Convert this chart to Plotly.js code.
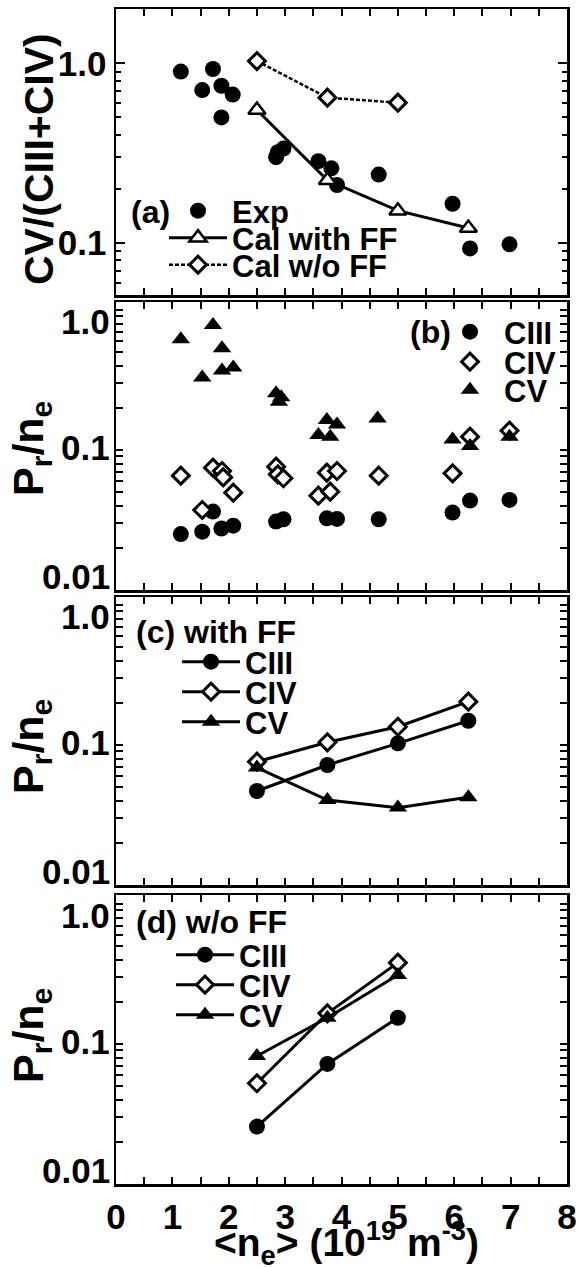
<!DOCTYPE html>
<html>
<head>
<meta charset="utf-8">
<script src="https://cdn.plot.ly/plotly-3.0.1.min.js"></script>
<style>html,body{margin:0;padding:0;background:#fff;}#chart{width:579px;height:1267px;}</style>
</head>
<body>
<div id="chart"></div>
<script>
// ---------- data ----------
// Panel (a): CV/(CIII+CIV)
const xExpA = [1.15, 1.53, 1.72, 1.87, 2.07, 1.87, 2.84, 2.87, 2.97, 3.59, 3.82, 3.92, 4.66, 5.97, 6.28, 6.98];
const yExpA = [0.90, 0.71, 0.93, 0.75, 0.67, 0.50, 0.30, 0.32, 0.335, 0.285, 0.26, 0.21, 0.24, 0.165, 0.093, 0.098];
const xCalFF = [2.5, 3.75, 5.0, 6.25];
const yCalFF = [0.55, 0.223, 0.151, 0.121];
const xCalNoFF = [2.5, 3.75, 5.0];
const yCalNoFF = [1.03, 0.644, 0.604];

// Panel (b): experimental Pr/ne
const xCIIIb = [1.15, 1.53, 1.72, 1.87, 2.08, 2.84, 2.97, 3.74, 3.92, 4.66, 5.97, 6.28, 6.98];
const yCIIIb = [0.0251, 0.0261, 0.0363, 0.0275, 0.0288, 0.0308, 0.032, 0.0325, 0.0322, 0.032, 0.0357, 0.0435, 0.044];
const xCIVb = [1.15, 1.53, 1.72, 1.88, 1.90, 2.08, 2.84, 2.87, 2.97, 3.59, 3.74, 3.80, 3.92, 4.66, 5.97, 6.28, 6.98];
const yCIVb = [0.0656, 0.0373, 0.0748, 0.0708, 0.0638, 0.0496, 0.076, 0.067, 0.0628, 0.0472, 0.0689, 0.0504, 0.0708, 0.0656, 0.0681, 0.1245, 0.1375];
const xCVb = [1.15, 1.53, 1.72, 1.88, 1.88, 2.08, 2.84, 2.89, 2.93, 3.59, 3.74, 3.80, 3.92, 4.64, 5.97, 6.28, 6.98];
const yCVb = [0.617, 0.330, 0.781, 0.532, 0.369, 0.389, 0.254, 0.221, 0.238, 0.128, 0.164, 0.1245, 0.152, 0.168, 0.119, 0.107, 0.1245];

// Panel (c): calculation with FF
const xCalc = [2.5, 3.75, 5.0, 6.25];
const yCIIIc = [0.0469, 0.072, 0.1028, 0.149];
const yCIVc = [0.076, 0.1045, 0.135, 0.204];
const yCVc = [0.069, 0.0404, 0.0357, 0.0423];

// Panel (d): calculation w/o FF
const xCald = [2.5, 3.75, 5.0];
const yCIIId = [0.0257, 0.072, 0.154];
const yCIVd = [0.0524, 0.1655, 0.381];
const yCVd = [0.082, 0.154, 0.311];

// ticks and tick labels
const xTickVals = [0, 0.5, 1, 1.5, 2, 2.5, 3, 3.5, 4, 4.5, 5, 5.5, 6, 6.5, 7, 7.5, 8];
const xTickText = ['0', '', '1', '', '2', '', '3', '', '4', '', '5', '', '6', '', '7', '', '8'];
const yTickValsA = [0.1, 1];
const yTickTextA = ['0.1', '1.0'];
const yMinorA = [0.06, 0.07, 0.08, 0.09, 0.2, 0.3, 0.4, 0.5, 0.6, 0.7, 0.8, 0.9];
const yLabelValsP = [0.01, 0.1, 1];
const yLabelTextP = ['0.01', '0.1', '1.0'];
const yTickValsP = [0.01, 0.02, 0.03, 0.04, 0.05, 0.06, 0.07, 0.08, 0.09,
                    0.1, 0.2, 0.3, 0.4, 0.5, 0.6, 0.7, 0.8, 0.9, 1];

// ---------- styling ----------
const FONT = 'Liberation Sans, Arial, sans-serif';
const BLK = '#000';
const LW = 3;
const mCircle = {symbol: 'circle', size: 16, color: BLK};
const mDiamond = {symbol: 'diamond', size: 13, color: '#fff', line: {width: 3, color: BLK}};
const mTriFill = {symbol: 'triangle-up', size: 16, color: BLK};
const mTriOpen = {symbol: 'triangle-up', size: 15, color: '#fff', line: {width: 2.5, color: BLK}};

function tr(x, y, name, marker, mode, xa, ya, legend, dash) {
  const t = {x: x, y: y, name: name, type: 'scatter', mode: mode, marker: marker,
    xaxis: xa, yaxis: ya, legend: legend, cliponaxis: false};
  if (mode.indexOf('lines') >= 0) t.line = {color: BLK, width: dash ? 2.5 : LW, dash: dash || 'solid'};
  return t;
}

const data = [
  tr(xExpA, yExpA, 'Exp', mCircle, 'markers', 'x', 'y', 'legend'),
  tr(xCalFF, yCalFF, 'Cal with FF', mTriOpen, 'lines+markers', 'x', 'y', 'legend2'),
  tr(xCalNoFF, yCalNoFF, 'Cal w/o FF', mDiamond, 'lines+markers', 'x', 'y', 'legend3', '4px,2px'),

  tr(xCIIIb, yCIIIb, 'CIII', mCircle, 'markers', 'x2', 'y2', 'legend4'),
  tr(xCIVb, yCIVb, 'CIV', mDiamond, 'markers', 'x2', 'y2', 'legend5'),
  tr(xCVb, yCVb, 'CV', mTriFill, 'markers', 'x2', 'y2', 'legend6'),

  tr(xCalc, yCIIIc, 'CIII', mCircle, 'lines+markers', 'x3', 'y3', 'legend7'),
  tr(xCalc, yCIVc, 'CIV', mDiamond, 'lines+markers', 'x3', 'y3', 'legend8'),
  tr(xCalc, yCVc, 'CV', mTriFill, 'lines+markers', 'x3', 'y3', 'legend9'),

  tr(xCald, yCIIId, 'CIII', mCircle, 'lines+markers', 'x4', 'y4', 'legend10'),
  tr(xCald, yCIVd, 'CIV', mDiamond, 'lines+markers', 'x4', 'y4', 'legend11'),
  tr(xCald, yCVd, 'CV', mTriFill, 'lines+markers', 'x4', 'y4', 'legend12')
];

// pixel helpers for the fixed 579x1267 layout
const L = 116, R = 12, T = 9, B = 83;
const PW = 579 - L - R, PH = 1267 - T - B;
const px = v => (v - L) / PW;           // horizontal pixel -> paper
const py = v => (1267 - B - v) / PH;     // vertical pixel -> paper

const TICKFONT = {family: FONT, size: 35, weight: 700, color: BLK};

function xax(anchor, showLabels) {
  return {
    anchor: anchor, domain: [0, 1], range: [0, 8], showline: true, linewidth: 2.5, linecolor: BLK,
    mirror: 'ticks', ticks: 'inside', ticklen: 7, tickwidth: 2, tickcolor: BLK,
    tickmode: 'array', tickvals: xTickVals, ticktext: xTickText,
    showgrid: false, zeroline: false, showticklabels: showLabels,
    tickfont: TICKFONT, fixedrange: true
  };
}
function yax(anchor, dom, range, tv, tt, showLabels, minorVals) {
  const a = {
    anchor: anchor, domain: dom, type: 'log', range: range, showline: true, linewidth: 2.5, linecolor: BLK,
    mirror: 'ticks', ticks: 'inside', ticklen: minorVals ? 9 : 7, tickwidth: 2, tickcolor: BLK,
    tickmode: 'array', tickvals: tv, ticktext: tt, showticklabels: showLabels,
    showgrid: false, zeroline: false,
    tickfont: TICKFONT, fixedrange: true
  };
  if (minorVals) a.minor = {tickmode: 'array', tickvals: minorVals, ticks: 'inside', ticklen: 5, tickwidth: 2, tickcolor: BLK};
  return a;
}

const PR = 'P<sub>r</sub>/n<sub>e</sub>';
const rP = [-2, 0.057], rD = [-2, 0.064];

const annotations = [
  {text: '(a)', x: px(129), y: py(212)},
  {text: '(b)', x: px(408), y: py(332)},
  {text: '(c) with FF', x: px(134), y: py(632)},
  {text: '(d) w/o FF', x: px(134), y: py(922)}
].map(a => Object.assign({xref: 'paper', yref: 'paper', xanchor: 'left', yanchor: 'middle', showarrow: false,
  font: {family: FONT, size: 32, weight: 700, color: BLK}}, a));

// tick labels of panels (b)-(d): as in the reference, 1.0 sits just under its tick and 0.01 just above its tick
const labelAnchor = ['bottom', 'middle', 'top'];
const labelShift = [-8, 2, 10];
['y2', 'y3', 'y4'].forEach(ya => {
  yLabelValsP.forEach((v, i) => annotations.push({text: yLabelTextP[i], xref: 'paper', x: 0, xanchor: 'right',
    xshift: -4, yref: ya, y: Math.log10(v), yanchor: labelAnchor[i], yshift: labelShift[i],
    showarrow: false, font: TICKFONT}));
});

// axis titles
[
  ['CV/(CIII+CIV)', 39, 159, 41],
  [PR, 31, 449, 43],
  [PR, 31, 747, 43],
  [PR, 31, 1036, 43]
].forEach(t => annotations.push({text: t[0], textangle: -90, xref: 'paper', yref: 'paper',
  x: px(t[1]), y: py(t[2]), xanchor: 'center', yanchor: 'middle', showarrow: false,
  font: {family: FONT, size: t[3], weight: 700, color: BLK}}));
annotations.push({text: '&lt;n<sub>e</sub>&gt; (10<sup>19</sup> m<sup>-3</sup>)', xref: 'paper', yref: 'paper',
  x: px(346), y: py(1243), xanchor: 'center', yanchor: 'middle', showarrow: false,
  font: {family: FONT, size: 39, weight: 700, color: BLK}});

const layout = {
  width: 579, height: 1267, margin: {l: L, r: R, t: T, b: B},
  paper_bgcolor: '#fff', plot_bgcolor: '#fff', showlegend: true,
  font: {family: FONT, color: BLK, weight: 700},
  xaxis: xax('y', false),
  xaxis2: xax('y2', false),
  xaxis3: xax('y3', false),
  xaxis4: xax('y4', true),
  yaxis: yax('x', [py(295), 1], [-1.291, 0.303], yTickValsA, yTickTextA, true, yMinorA),
  yaxis2: yax('x2', [py(590), py(302)], rP, yTickValsP, null, false),
  yaxis3: yax('x3', [py(885), py(597)], rP, yTickValsP, null, false),
  yaxis4: yax('x4', [0, py(895)], rD, yTickValsP, null, false),
  annotations: annotations
};

// one legend per entry so every row sits where the reference puts it
const legendPos = [
  [198, 211], [198, 238], [198, 265],
  [470, 332], [470, 362], [470, 390],
  [211, 662], [211, 692], [211, 722],
  [205, 955], [205, 985], [205, 1015]
];
legendPos.forEach((p, i) => {
  const key = i === 0 ? 'legend' : 'legend' + (i + 1);
  layout[key] = {x: px(p[0] - 34), y: py(p[1]), xanchor: 'left', yanchor: 'middle', xref: 'paper', yref: 'paper',
    bgcolor: 'rgba(0,0,0,0)', borderwidth: 0, itemwidth: 58, tracegroupgap: 0,
    itemclick: false, itemdoubleclick: false,
    font: {family: FONT, size: 31, weight: 700, color: BLK}};
});

Plotly.newPlot('chart', data, layout, {displayModeBar: false, staticPlot: true});
</script>
</body>
</html>
